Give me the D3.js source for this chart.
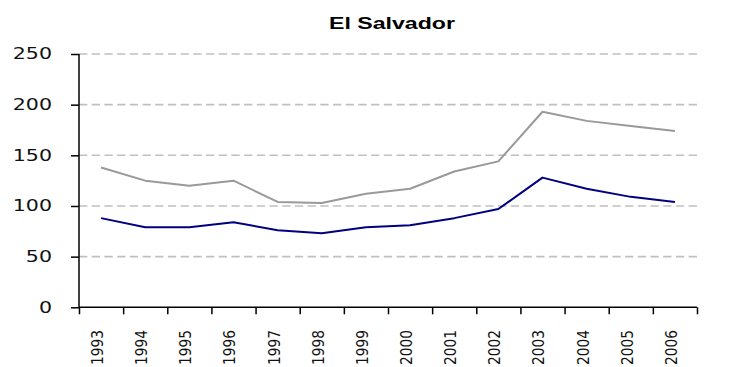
<!DOCTYPE html>
<html>
<head>
<meta charset="utf-8">
<script src="https://cdn.jsdelivr.net/npm/d3@7"></script>
<style>
  html, body { margin: 0; padding: 0; background: #fff; }
  svg { display: block; }
</style>
</head>
<body>
<svg id="chart" width="733" height="367"></svg>
<script>
// Series for El Salvador, 1993-2006
const years = ["1993","1994","1995","1996","1997","1998","1999","2000","2001","2002","2003","2004","2005","2006"];
const upperSeries = [138, 125, 120, 125, 104, 103, 112, 117, 134, 144, 193, 184, 179, 174];
const lowerSeries = [88, 79, 79, 84, 76, 73, 79, 81, 88, 97, 128, 117, 109, 104];
const yTicks = [0, 50, 100, 150, 200, 250];
const title = "El Salvador";

const svg = d3.select("#chart");

const plotLeft = 79, plotRight = 697, plotTop = 54, plotBottom = 307.3;

const x = d3.scaleBand().domain(years).range([plotLeft, plotRight]).padding(0);
const xEdge = d3.scaleLinear().domain([0, years.length]).range([plotLeft, plotRight]);
const y = d3.scaleLinear().domain([0, 250]).range([plotBottom, plotTop]);
const cx = d => x(d) + x.bandwidth() / 2;

// Dashed horizontal gridlines
svg.append("g")
  .selectAll("line")
  .data(yTicks.filter(v => v > 0))
  .join("line")
  .attr("x1", plotLeft).attr("x2", plotRight)
  .attr("y1", d => y(d)).attr("y2", d => y(d))
  .attr("stroke", "#c0c0c0")
  .attr("stroke-width", 1.6)
  .attr("stroke-dasharray", "8.3,4.4");

// Y axis
const yAxis = svg.append("g")
  .attr("transform", `translate(${plotLeft},0)`)
  .call(d3.axisLeft(y).tickValues(yTicks).tickSize(8).tickFormat(""));
yAxis.select(".domain").attr("stroke", "#000").attr("stroke-width", 1.5).attr("d", `M0,${plotTop}V${plotBottom}`);
yAxis.selectAll(".tick line").attr("stroke", "#000").attr("stroke-width", 1.5);

svg.append("g")
  .selectAll("text")
  .data(yTicks)
  .join("text")
  .attr("transform", d => `translate(52,${y(d) + 5.4}) scale(1.37,1)`)
  .attr("text-anchor", "end")
  .attr("font-family", "DejaVu Sans, Verdana, sans-serif")
  .attr("font-size", 15)
  .attr("fill", "#111")
  .text(d => d);

// X axis with ticks on category boundaries
const xAxis = svg.append("g")
  .attr("transform", `translate(0,${plotBottom})`)
  .call(d3.axisBottom(xEdge).tickValues(d3.range(years.length + 1)).tickSize(7).tickFormat(""));
xAxis.select(".domain").attr("stroke", "#000").attr("stroke-width", 1.5).attr("d", `M${plotLeft},0H${plotRight}`);
xAxis.selectAll(".tick line").attr("stroke", "#000").attr("stroke-width", 1.5);

svg.append("g")
  .selectAll("text")
  .data(years)
  .join("text")
  .attr("transform", d => `translate(${cx(d) - 3.8},330) scale(1.15,1) rotate(-90)`)
  .attr("text-anchor", "end")
  .attr("dy", "0.36em")
  .attr("font-family", "DejaVu Sans, Verdana, sans-serif")
  .attr("font-size", 13.8)
  .attr("fill", "#111")
  .text(d => d);

// Lines
const line = d3.line().x((d, i) => cx(years[i])).y(d => y(d));

svg.append("path")
  .datum(upperSeries)
  .attr("fill", "none")
  .attr("stroke", "#999999")
  .attr("stroke-width", 2)
  .attr("stroke-linejoin", "round")
  .attr("d", line);

svg.append("path")
  .datum(lowerSeries)
  .attr("fill", "none")
  .attr("stroke", "#000080")
  .attr("stroke-width", 2)
  .attr("stroke-linejoin", "round")
  .attr("d", line);

// Title
svg.append("text")
  .attr("transform", `translate(392,29) scale(1.36,1)`)
  .attr("text-anchor", "middle")
  .attr("font-family", "Liberation Sans, Arial, sans-serif")
  .attr("font-weight", "bold")
  .attr("font-size", 17)
  .attr("fill", "#000")
  .text(title);
</script>
</body>
</html>
